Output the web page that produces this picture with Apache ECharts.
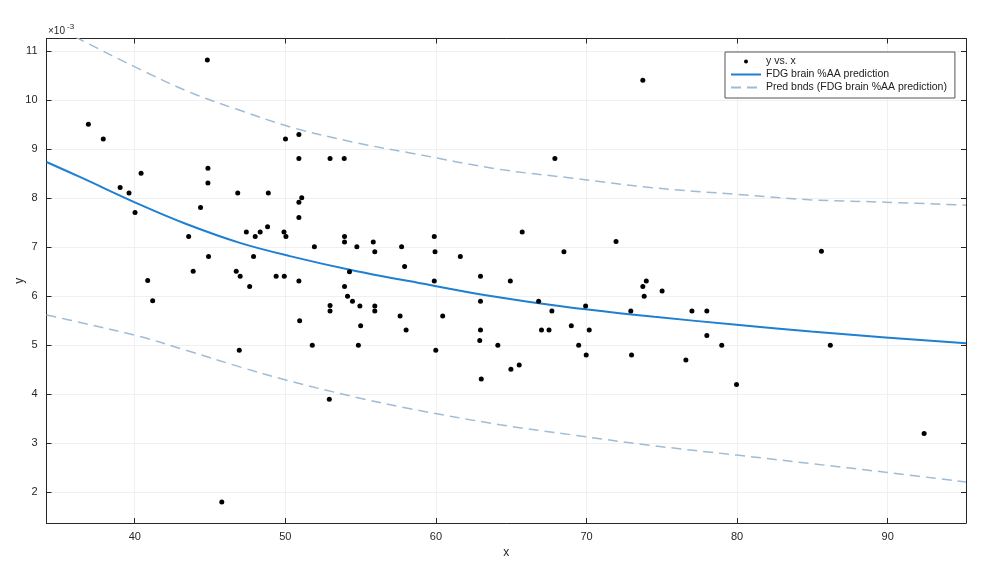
<!DOCTYPE html>
<html><head><meta charset="utf-8">
<script src="https://cdn.jsdelivr.net/npm/echarts@6/dist/echarts.min.js"></script>
<style>html,body{margin:0;padding:0;background:#fff}#c{width:987px;height:563px}</style>
</head><body><div id="c"></div>
<script>
// tick labels
const xTicks = [40, 50, 60, 70, 80, 90];
const yTicks = [2, 3, 4, 5, 6, 7, 8, 9, 10, 11];
// observations (y in units of 1e-3)
const pointsX = [36.92,37.91,39.03,39.62,40.02,40.42,40.86,41.19,43.58,43.88,44.37,44.82,44.86,44.86,44.90,45.78,
  46.74,46.84,46.94,47.00,47.41,47.63,47.89,48.00,48.33,48.82,48.87,49.39,49.91,49.93,50.01,50.04,
  50.90,50.90,50.90,50.90,50.90,50.95,51.09,51.79,51.93,52.92,52.97,52.97,52.97,53.91,53.93,53.93,53.93,
  54.13,54.26,54.46,54.75,54.85,54.95,55.00,55.84,55.94,55.94,55.94,57.62,57.72,57.92,58.02,
  59.89,59.94,59.89,59.99,60.45,61.62,62.91,62.96,62.96,62.96,63.01,64.11,64.94,64.98,65.53,65.73,
  66.82,67.01,67.51,67.70,67.90,68.50,68.99,69.48,69.94,69.98,70.18,71.96,72.94,72.99,
  73.74,73.74,73.83,73.97,75.02,76.60,77.00,77.99,77.99,78.98,79.96,85.60,86.19,92.42];
const pointsY = [9.51,9.21,8.22,8.11,7.71,8.51,6.32,5.91,7.22,6.51,7.81,10.82,8.61,8.31,6.81,1.80,
  6.51,8.11,4.90,6.41,7.31,6.20,6.81,7.22,7.31,7.42,8.11,6.41,7.31,6.41,9.21,7.22,
  9.30,8.81,7.92,7.61,6.31,5.50,8.01,5.00,7.01,3.90,8.81,5.81,5.70,8.81,7.22,7.11,6.20,
  6.00,6.50,5.90,7.01,5.00,5.80,5.40,7.11,6.91,5.80,5.70,5.60,7.01,6.61,5.31,
  7.22,6.91,6.31,4.90,5.60,6.81,5.10,6.41,5.90,5.31,4.31,5.00,6.31,4.51,4.60,7.31,
  5.90,5.31,5.31,5.70,8.81,6.91,5.40,5.00,5.80,4.80,5.31,7.12,5.70,4.80,
  6.20,10.41,6.00,6.31,6.11,4.70,5.70,5.70,5.20,5.00,4.20,6.92,5.00,3.20];
// fitted curve
const fitX = [34.14,36.46,40.35,43.38,46.98,50.30,54.75,58.21,62.91,66.12,70.08,74.50,79.96,84.91,89.85,95.20];
const fitY = [8.74,8.42,7.87,7.48,7.09,6.82,6.51,6.31,6.04,5.89,5.73,5.58,5.42,5.28,5.16,5.04];
// prediction bounds
const upperX = [34.14,36.56,40.42,43.68,46.94,50.50,54.75,58.21,64.24,69.09,74.23,79.96,84.81,89.85,95.20];
const upperY = [11.60,11.21,10.62,10.16,9.80,9.44,9.13,8.93,8.59,8.41,8.22,8.08,7.97,7.92,7.86];
const lowerX = [34.14,36.46,40.35,43.38,46.98,50.30,54.55,58.21,64.24,69.09,74.19,79.96,84.81,89.85,95.20];
const lowerY = [5.62,5.46,5.18,4.90,4.56,4.27,3.95,3.71,3.38,3.17,2.96,2.76,2.59,2.41,2.21];

const zip = (a, b) => a.map((v, i) => [v, b[i]]);
const FONT = 'Liberation Sans, Arial, Helvetica, sans-serif';
const AX = '#262626';
const chart = echarts.init(document.getElementById('c'), null, {renderer: 'canvas'});
const bandName = 'Pred bnds (FDG brain %AA prediction)';
const xCommon = {type: 'value', min: 34.14, max: 95.2,
  axisLine: {show: true, onZero: false, lineStyle: {color: AX, width: 1}},
  axisTick: {show: true, inside: true, length: 5, customValues: xTicks, lineStyle: {color: AX}}};
const yCommon = {type: 'value', min: 1.374, max: 11.26,
  axisLine: {show: true, onZero: false, lineStyle: {color: AX, width: 1}},
  axisTick: {show: true, inside: true, length: 5, customValues: yTicks, lineStyle: {color: AX}}};
chart.setOption({
  backgroundColor: '#fff',
  animation: false,
  grid: {left: 46.5, right: 21, top: 38.5, bottom: 40, containLabel: false, outerBoundsMode: 'none'},
  xAxis: [
    Object.assign({}, xCommon, {position: 'bottom',
      axisLabel: {customValues: xTicks, color: AX, fontSize: 11, fontFamily: FONT, margin: 8},
      splitLine: {show: true, lineStyle: {color: '#f0f0f0', width: 1}},
      name: 'x', nameLocation: 'middle', nameGap: 24, nameMoveOverlap: false,
      nameTextStyle: {color: AX, fontSize: 12, fontFamily: FONT}}),
    Object.assign({}, xCommon, {position: 'top', axisLabel: {show: false}, splitLine: {show: false}})
  ],
  yAxis: [
    Object.assign({}, yCommon, {position: 'left',
      axisLabel: {customValues: yTicks, color: AX, fontSize: 11, fontFamily: FONT, margin: 9},
      splitLine: {show: true, lineStyle: {color: '#f0f0f0', width: 1}},
      name: 'y', nameLocation: 'middle', nameGap: 21, nameRotate: 90, nameMoveOverlap: false,
      nameTextStyle: {color: AX, fontSize: 12, fontFamily: FONT}}),
    Object.assign({}, yCommon, {position: 'right', axisLabel: {show: false}, splitLine: {show: false}})
  ],
  legend: {
    left: 725, top: 52, orient: 'vertical', itemWidth: 30, itemHeight: 8, itemGap: 2,
    padding: [4, 8, 5, 5], backgroundColor: '#fff', borderColor: '#555', borderWidth: 1,
    textStyle: {fontSize: 10.5, color: '#222', fontFamily: FONT},
    data: [
      {name: 'y vs. x', icon: 'path://M0,0M10,10M2.5,5a2.5,2.5 0 1,0 5,0a2.5,2.5 0 1,0 -5,0', itemStyle: {color: '#000'}},
      {name: 'FDG brain %AA prediction', itemStyle: {opacity: 0}},
      {name: bandName, itemStyle: {opacity: 0}}
    ]
  },
  graphic: [
    {type: 'text', left: 48, top: 26, silent: true, style: {text: '×10', fontSize: 10, fill: AX, fontFamily: FONT}},
    {type: 'text', left: 67, top: 23, silent: true, style: {text: '-3', fontSize: 8, fill: AX, fontFamily: FONT}}
  ],
  series: [
    {name: bandName, type: 'line', data: zip(upperX, upperY), symbol: 'none', smooth: 0.35, clip: true,
      itemStyle: {color: '#9fbcd6'},
      lineStyle: {color: '#9fbcd6', width: 1.5, type: [10, 6]}, z: 2},
    {name: bandName, type: 'line', data: zip(lowerX, lowerY), symbol: 'none', smooth: 0.35, clip: true,
      itemStyle: {color: '#9fbcd6'},
      lineStyle: {color: '#9fbcd6', width: 1.5, type: [10, 6]}, z: 2},
    {name: 'FDG brain %AA prediction', type: 'line', data: zip(fitX, fitY), symbol: 'none', smooth: 0.35, clip: true,
      itemStyle: {color: '#1f7fd0'},
      lineStyle: {color: '#1f7fd0', width: 2}, z: 3},
    {name: 'y vs. x', type: 'scatter', data: zip(pointsX, pointsY), symbol: 'circle', symbolSize: 5,
      itemStyle: {color: '#000', opacity: 1}, z: 4}
  ]
});
</script></body></html>
